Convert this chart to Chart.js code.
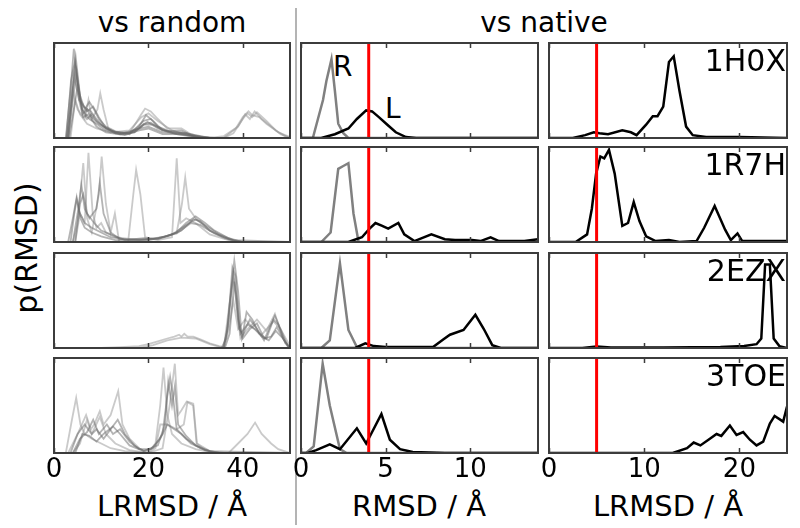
<!DOCTYPE html>
<html lang="en">
<head>
<meta charset="UTF-8">
<title>p(RMSD) vs random / vs native</title>
<script src="https://cdn.jsdelivr.net/npm/chart.js"></script>
<style>
    body { margin: 0; background: #fff; }
    #fig { position: relative; width: 800px; height: 528px; overflow: hidden; }
    #fig canvas { position: absolute; }
    .t {
        position: absolute;
        font-family: 'DejaVu Sans', sans-serif;
        line-height: 1;
        white-space: nowrap;
        color: #000;
    }
    .sep { position: absolute; left: 295px; top: 8px; width: 2px; height: 517px; background: #b4b4b4; }
</style>
</head>
<body>
<div id="fig">
    <div class="sep"></div>
    <div class="t" style="font-size:28px; left:172px; top:9px; transform:translateX(-50%);">vs random</div>
    <div class="t" style="font-size:28px; left:544px; top:9px; transform:translateX(-50%);">vs native</div>
    <div class="t" style="font-size:30px; left:27px; top:248px; transform:translate(-50%,-50%) rotate(-90deg);">p(RMSD)</div>
    <div class="t" style="font-size:29px; left:172px; top:492px; transform:translateX(-50%);">LRMSD / Å</div>
    <div class="t" style="font-size:29px; left:419px; top:492px; transform:translateX(-50%);">RMSD / Å</div>
    <div class="t" style="font-size:29px; left:668px; top:492px; transform:translateX(-50%);">LRMSD / Å</div>
    <div class="t" style="font-size:28px; left:333px; top:53px;">R</div>
    <div class="t" style="font-size:28px; left:385px; top:95px;">L</div>
</div>

<script>
// ---- data ----
const complexes = ['1H0X', '1R7H', '2EZX', '3TOE'];
const randTicks = [0, 20, 40];
const rmsdTicks = [0, 5, 10];
const lrmsdTicks = [0, 10, 20];
const cutoffRmsd = 4;
const cutoffLrmsd = 5;

// vs random: LRMSD distributions, [LRMSD, p]
const rand1H0X_dark = [
    [[0,0],[2.5,0],[3.5,0.5],[4.2,0.94],[5,0.6],[6,0.3],[7,0.2],[8,0.25],[9,0.18],[11,0.1],[13,0.05],[16,0.05],[18,0.12],[19.5,0.24],[21,0.18],[23,0.08],[26,0.04],[30,0.02],[34,0],[50,0]],
    [[0,0],[2.8,0],[3.8,0.5],[4.6,0.85],[5.5,0.45],[6.5,0.3],[7.5,0.38],[8.5,0.3],[9.5,0.2],[11,0.12],[13,0.07],[16,0.04],[19,0.18],[20.5,0.2],[22,0.12],[25,0.06],[28,0.05],[30,0.02],[33,0],[50,0]],
    [[0,0],[3,0],[4,0.4],[4.8,0.7],[5.6,0.4],[7,0.28],[8.3,0.33],[9.5,0.22],[11,0.1],[14,0.04],[17,0.06],[19,0.14],[21,0.14],[24,0.07],[27,0.08],[29,0.03],[32,0],[50,0]],
    [[0,0],[3.2,0],[4.2,0.3],[5,0.55],[6,0.3],[7.5,0.2],[9,0.15],[11,0.08],[14,0.04],[18,0.1],[20,0.12],[23,0.06],[27,0.05],[31,0],[50,0]],
    [[0,0],[2.6,0],[3.6,0.6],[4.4,0.8],[5.2,0.5],[6.2,0.22],[7.3,0.25],[9,0.12],[11,0.06],[15,0.03],[18,0.08],[20,0.1],[23,0.04],[28,0.04],[31,0],[50,0]],
    [[0,0],[2.7,0],[3.6,0.35],[4.3,0.65],[5.1,0.45],[6,0.25],[7,0.3],[8,0.22],[9.5,0.15],[12,0.08],[15,0.04],[18,0.1],[19.8,0.17],[22,0.1],[26,0.04],[30,0.01],[34,0],[50,0]],
    [[0,0],[3,0],[3.9,0.45],[4.5,0.75],[5.3,0.4],[6.3,0.33],[7.8,0.28],[9,0.2],[10.5,0.12],[13,0.06],[17,0.06],[19,0.15],[20.5,0.16],[23,0.08],[27,0.06],[30,0.03],[33,0],[50,0]]
];
const rand1H0X_light = [
    [[0,0],[3,0],[4,0.5],[5,0.3],[6.5,0.2],[7.3,0.4],[8,0.2],[9.2,0.3],[9.8,0.47],[10.5,0.3],[11.5,0.1],[13,0.05],[16,0.05],[18.5,0.25],[19.3,0.31],[20.5,0.28],[22,0.2],[24,0.1],[27,0.1],[29,0.04],[32,0],[36,0],[38,0.05],[40,0.2],[41,0.26],[42,0.22],[43,0.27],[45,0.18],[47,0.08],[49,0.02],[50,0]],
    [[0,0],[3.5,0],[4.5,0.4],[5.5,0.25],[7,0.15],[9,0.1],[12,0.06],[16,0.08],[18.5,0.22],[20,0.26],[22,0.18],[25,0.08],[28,0.03],[33,0],[36,0.02],[39,0.12],[40.5,0.25],[41.5,0.2],[42.5,0.28],[44,0.2],[46,0.12],[48,0.04],[50,0]],
    [[0,0],[36,0],[38.5,0.1],[40,0.22],[41.2,0.28],[42,0.24],[43.5,0.22],[45,0.15],[47.5,0.06],[50,0.01]]
];

const rand1R7H_dark = [
    [[0,0],[3.5,0],[4.3,0.3],[4.8,0.45],[5.5,0.3],[6.5,0.2],[8,0.15],[10,0.1],[12,0.05],[16,0.02],[20,0.02],[23,0.05],[26,0.1],[28,0.2],[30,0.27],[32,0.2],[34,0.12],[37,0.04],[40,0],[50,0]],
    [[0,0],[4,0],[5,0.3],[5.8,0.6],[6.5,0.35],[7.5,0.25],[9,0.35],[9.7,0.62],[10.5,0.3],[12,0.1],[14,0.03],[20,0.03],[24,0.06],[27,0.12],[29.5,0.24],[31,0.22],[33,0.12],[36,0.05],[39,0],[50,0]],
    [[0,0],[4.5,0],[5.5,0.4],[6.2,0.5],[7,0.3],[8.5,0.2],[10,0.12],[12,0.08],[15,0.02],[19,0.04],[22,0.03],[25,0.08],[28,0.18],[30,0.24],[32.5,0.16],[35,0.08],[38,0.02],[50,0]],
    [[0,0],[3,0],[4,0.25],[4.8,0.47],[5.6,0.25],[6.5,0.15],[8,0.1],[10,0.06],[13,0.02],[18,0.02],[22,0.04],[26,0.09],[29,0.2],[31,0.18],[34,0.09],[37,0.03],[40,0],[50,0]]
];
const rand1R7H_light = [
    [[0,0],[4,0],[5,0.2],[6.2,0.83],[7,0.25],[8,0.1],[9.5,0.5],[10.1,0.9],[11,0.4],[12,0.1],[12.9,0.3],[13.8,0],[15.7,0],[16.8,0.5],[17.4,0.76],[18.3,0.5],[19.3,0.05],[22,0.02],[25,0.05],[26,0.88],[26.8,0.2],[28,0.25],[30,0.2],[33,0.08],[37,0.02],[40,0],[50,0]],
    [[0,0],[4.5,0],[5.5,0.3],[6.5,0.2],[7.3,0.94],[8.2,0.3],[9,0.15],[10,0.2],[11,0.1],[13,0.05],[18,0.02],[22,0.03],[26,0.1],[27.1,0.4],[27.8,0.68],[28.6,0.35],[30,0.25],[33,0.12],[36,0.04],[39,0],[50,0]]
];

const rand2EZX_dark = [
    [[0,0],[35.5,0],[36.5,0.1],[37.5,0.6],[38.2,0.92],[39,0.6],[39.8,0.1],[40.5,0.2],[41.5,0.3],[43,0.2],[44.5,0.08],[46,0.25],[46.8,0.34],[48,0.2],[49.5,0.02],[50,0]],
    [[0,0],[35.8,0],[36.8,0.2],[37.8,0.85],[38.5,0.75],[39.2,0.2],[40,0.15],[40.8,0.38],[42,0.3],[43.5,0.15],[45,0.1],[46.5,0.3],[47.5,0.25],[49,0.05],[50,0]],
    [[0,0],[36,0],[37,0.3],[38,0.78],[38.8,0.5],[39.5,0.15],[41,0.25],[42.5,0.2],[44,0.12],[45.5,0.08],[47,0.18],[48.5,0.1],[50,0]],
    [[0,0],[36.2,0],[37.2,0.15],[38.2,0.7],[39,0.3],[40,0.1],[41.5,0.2],[43,0.26],[44.5,0.1],[46,0.12],[47.2,0.22],[49,0.06],[50,0]]
];
const rand2EZX_light = [
    [[0,0],[10,0],[14,0.01],[18,0.02],[20,0.04],[22,0.07],[24,0.1],[25.5,0.12],[26.5,0.14],[27,0.12],[27.6,0.15],[28.3,0.12],[29.5,0.12],[31,0.09],[33,0.05],[35,0.02],[36,0.01],[37,0.4],[38,0.75],[38.8,0.4],[39.5,0.1],[41,0.2],[43,0.3],[45,0.18],[46.8,0.36],[48.5,0.1],[50,0]],
    [[0,0],[18,0],[21,0.03],[24,0.08],[27,0.11],[30,0.1],[33,0.04],[36,0],[37,0.2],[38,0.5],[39,0.2],[40.5,0.3],[42,0.22],[44,0.14],[46.5,0.28],[48,0.2],[50,0.02]]
];

const rand3TOE_dark = [
    [[0,0],[3.5,0],[5,0.2],[6.5,0.3],[8,0.2],[9,0.25],[10.5,0.15],[12,0.25],[13.5,0.35],[15,0.2],[17,0.08],[19,0.02],[21,0.05],[23,0.2],[24,0.6],[24.6,0.8],[25.2,0.6],[26,0.25],[28,0.15],[31,0.05],[34,0],[50,0]],
    [[0,0],[4,0],[5.5,0.15],[7,0.22],[8.3,0.35],[9.5,0.2],[11.2,0.3],[12.5,0.2],[14,0.25],[16,0.12],[18,0.04],[20.5,0.04],[22.5,0.15],[24,0.3],[25.5,0.25],[27,0.2],[29,0.1],[32,0.03],[35,0],[50,0]],
    [[0,0],[4.5,0],[6,0.2],[7.5,0.18],[9,0.12],[10.5,0.2],[12.5,0.28],[14,0.2],[16,0.08],[19,0.02],[22,0.08],[23.5,0.3],[24.2,0.75],[25,0.5],[25.6,0.7],[26.3,0.3],[28,0.18],[30,0.08],[33,0.02],[50,0]]
];
const rand3TOE_light = [
    [[0,0],[2.5,0],[3.8,0.35],[4.7,0.58],[5.6,0.3],[6.5,0.2],[8,0.15],[10,0.1],[12,0.05],[15,0.02],[20,0],[21.5,0.1],[22.5,0.5],[23.2,0.9],[24,0.4],[25,0.2],[27,0.1],[30,0.04],[34,0],[37,0],[39,0.1],[41,0.2],[42.6,0.32],[44,0.2],[46,0.1],[47.5,0.04],[50,0]],
    [[0,0],[3,0],[5,0.2],[6.8,0.4],[7.8,0.25],[8.5,0.3],[9.7,0.44],[10.5,0.3],[12,0.4],[13.6,0.65],[14.5,0.3],[16,0.15],[18,0.05],[20,0],[23,0.05],[24.5,0.5],[25.6,0.94],[26.3,0.4],[27,0.45],[28.1,0.54],[29.5,0.5],[30.2,0.1],[32,0.03],[35,0],[50,0]],
    [[0,0],[4,0],[5.5,0.1],[7,0.35],[8,0.2],[9.7,0.38],[11,0.2],[13,0.1],[16,0.03],[20,0],[21.5,0.05],[22.5,0.3],[24,0.3],[26,0.25],[27.5,0.3],[28.3,0.54],[29.5,0.52],[30.3,0.1],[33,0.02],[36,0],[50,0]]
];

// vs native: receptor (R) and ligand (L) RMSD, [RMSD, p]
const rec1H0X = [[0,0],[0.7,0],[1.0,0.2],[1.3,0.4],[1.5,0.6],[1.8,0.83],[2.0,0.5],[2.2,0.15],[2.5,0.05],[2.8,0],[14,0]];
const lig1H0X = [[0,0],[1.2,0],[2,0.04],[2.8,0.1],[3.3,0.2],[3.85,0.29],[4.2,0.28],[4.6,0.22],[5.1,0.14],[5.6,0.06],[6.2,0.01],[6.8,0],[14,0]];
const rec1R7H = [[0,0],[1.2,0],[1.75,0.1],[2.2,0.77],[2.5,0.8],[2.8,0.83],[3.1,0.3],[3.4,0],[14,0]];
const lig1R7H = [[0,0],[2.8,0],[3.6,0.05],[4.05,0.14],[4.4,0.2],[4.8,0.17],[5.15,0.14],[5.75,0.2],[6.1,0.08],[6.7,0.01],[7.7,0.08],[8.5,0.03],[9.1,0.02],[10.1,0.02],[10.6,0.01],[11.2,0.05],[11.7,0.01],[13.2,0.01],[14,0.03]];
const rec2EZX = [[0,0],[1.2,0],[1.7,0.08],[2.3,0.89],[2.8,0.19],[3.3,0.01],[3.6,0],[14,0]];
const lig2EZX = [[0,0],[3.2,0],[3.8,0.05],[4.3,0.02],[5,0.01],[7.8,0.01],[8.4,0.09],[8.8,0.14],[9.6,0.19],[10.3,0.35],[10.8,0.2],[11.3,0.03],[11.8,0],[14,0]];
const rec3TOE = [[0,0],[0.3,0],[0.75,0.07],[1.28,0.94],[1.7,0.5],[2.3,0.04],[2.7,0],[14,0]];
const lig3TOE = [[0,0],[0.4,0],[0.9,0.03],[1.7,0.09],[2.3,0.04],[3.3,0.26],[3.85,0.1],[4.75,0.41],[5.25,0.14],[5.85,0.04],[6.6,0.01],[8.5,0],[14,0]];

// vs native: ligand LRMSD, [LRMSD, p]
const lrmsd1H0X = [[0,0],[2.5,0],[3.8,0.03],[4.7,0.06],[5.3,0.05],[6.2,0.04],[7.7,0.08],[8.6,0.06],[9.2,0.03],[10.2,0.14],[10.9,0.23],[11.4,0.23],[12,0.33],[12.6,0.8],[13.1,0.86],[13.7,0.5],[14.4,0.12],[15.1,0.03],[16.5,0.01],[20,0.01],[25,0]];
const lrmsd1R7H = [[0,0],[2.8,0],[4,0.08],[4.5,0.35],[4.95,0.72],[5.4,0.9],[5.8,0.88],[6.3,0.97],[6.9,0.72],[7.7,0.17],[8.3,0.2],[8.9,0.42],[9.5,0.22],[10.2,0.06],[11.2,0.01],[12.6,0.02],[13.7,0],[15.5,0.01],[16.3,0.15],[17.4,0.38],[18.5,0.13],[19.1,0.02],[19.8,0.09],[20.3,0.01],[22,0.01],[25,0.01]];
const lrmsd2EZX = [[0,0],[3.5,0],[5,0.015],[6.5,0.005],[12,0.005],[18,0.01],[20.5,0.02],[21.8,0.04],[22.3,0.1],[22.7,0.88],[23.2,0.88],[23.6,0.1],[24.2,0.02],[25,0]];
const lrmsd3TOE = [[0,0],[13,0],[14.5,0.05],[15.2,0.11],[15.9,0.08],[16.9,0.15],[17.6,0.2],[18.1,0.18],[19,0.29],[19.7,0.19],[20.4,0.22],[21.1,0.14],[21.8,0.08],[22.5,0.12],[23.2,0.31],[23.7,0.39],[24.6,0.33],[25,0.49]];

// ---- layout ----
const panelX = [54, 301, 549];
const panelW = [236, 237, 238];
const panelY = [43, 147, 253, 358];
const panelH = 95;
const P = 20;       // room around each plot area inside its canvas
const AXIS_H = 40;  // height of the tick-label strip on the bottom row

const DARK = 'rgba(105,105,105,0.5)';
const LIGHT = 'rgba(150,150,150,0.5)';

function pts(line) {
    return line.map(p => ({ x: p[0], y: p[1] }));
}

// frame around each plot plus small inward ticks top and bottom
const framePlugin = {
    id: 'frame',
    afterDatasetsDraw(chart, args, opts) {
        const { ctx, chartArea: a, scales: { x } } = chart;
        ctx.save();
        ctx.strokeStyle = '#3c3c3c';
        ctx.lineWidth = 2;
        ctx.strokeRect(a.left, a.top, a.right - a.left, a.bottom - a.top);
        ctx.lineWidth = 1.5;
        ctx.beginPath();
        opts.ticks.forEach(v => {
            const px = Math.round(x.getPixelForValue(v)) + 0.5;
            ctx.moveTo(px, a.top); ctx.lineTo(px, a.top + 5);
            ctx.moveTo(px, a.bottom); ctx.lineTo(px, a.bottom - 5);
        });
        ctx.stroke();
        ctx.restore();
    }
};

function makePanel(col, row, datasets, xMax, ticks) {
    const last = row === 3;
    const w = panelW[col] + 2 * P;
    const h = panelH + P + (last ? AXIS_H : P);
    const c = document.createElement('canvas');
    c.width = w; c.height = h;
    c.style.left = (panelX[col] - P) + 'px';
    c.style.top = (panelY[row] - P) + 'px';
    c.style.width = w + 'px';
    c.style.height = h + 'px';
    document.getElementById('fig').appendChild(c);

    new Chart(c, {
        type: 'line',
        data: { datasets: datasets },
        options: {
            animation: false,
            responsive: false,
            devicePixelRatio: 1,
            layout: { padding: { left: P, right: P, top: P, bottom: last ? 0 : P }, autoPadding: false },
            plugins: { legend: { display: false }, tooltip: { enabled: false }, frame: { ticks: ticks } },
            elements: { point: { radius: 0 }, line: { tension: 0 } },
            scales: {
                x: {
                    type: 'linear', min: 0, max: xMax, display: last,
                    grid: { display: false, drawTicks: false },
                    border: { display: false },
                    ticks: { color: '#000', font: { family: 'DejaVu Sans', size: 26 }, padding: 2, maxRotation: 0, autoSkip: false },
                    afterBuildTicks: s => { s.ticks = ticks.map(v => ({ value: v })); },
                    afterFit: s => { if (last) s.height = AXIS_H; }
                },
                y: { min: 0, max: 1, display: false }
            }
        },
        plugins: [framePlugin]
    });
}

function redLine(xv) {
    return { data: [{ x: xv, y: 0 }, { x: xv, y: 1 }], borderColor: '#ff0000', borderWidth: 3 };
}

const randDark = [rand1H0X_dark, rand1R7H_dark, rand2EZX_dark, rand3TOE_dark];
const randLight = [rand1H0X_light, rand1R7H_light, rand2EZX_light, rand3TOE_light];
const recLines = [rec1H0X, rec1R7H, rec2EZX, rec3TOE];
const ligLines = [lig1H0X, lig1R7H, lig2EZX, lig3TOE];
const lrmsdLines = [lrmsd1H0X, lrmsd1R7H, lrmsd2EZX, lrmsd3TOE];

complexes.forEach((name, r) => {
    // vs random
    const rs = [];
    randDark[r].forEach(l => rs.push({ data: pts(l), borderColor: DARK, borderWidth: 1.8 }));
    randLight[r].forEach(l => rs.push({ data: pts(l), borderColor: LIGHT, borderWidth: 1.8 }));
    makePanel(0, r, rs, 50, randTicks);

    // vs native, receptor/ligand RMSD
    makePanel(1, r, [
        redLine(cutoffRmsd),
        { data: pts(ligLines[r]), borderColor: '#000', borderWidth: 2.5 },
        { data: pts(recLines[r]), borderColor: '#808080', borderWidth: 2.5 }
    ], 14, rmsdTicks);

    // vs native, LRMSD
    makePanel(2, r, [
        redLine(cutoffLrmsd),
        { data: pts(lrmsdLines[r]), borderColor: '#000', borderWidth: 2.5 }
    ], 25, lrmsdTicks);

    // complex label, top right of the panel
    const lab = document.createElement('div');
    lab.className = 't';
    lab.textContent = name;
    lab.style.fontSize = '30px';
    lab.style.right = '14px';
    lab.style.top = (panelY[r] + 3) + 'px';
    lab.style.zIndex = 2;
    document.getElementById('fig').appendChild(lab);
});
</script>
</body>
</html>
